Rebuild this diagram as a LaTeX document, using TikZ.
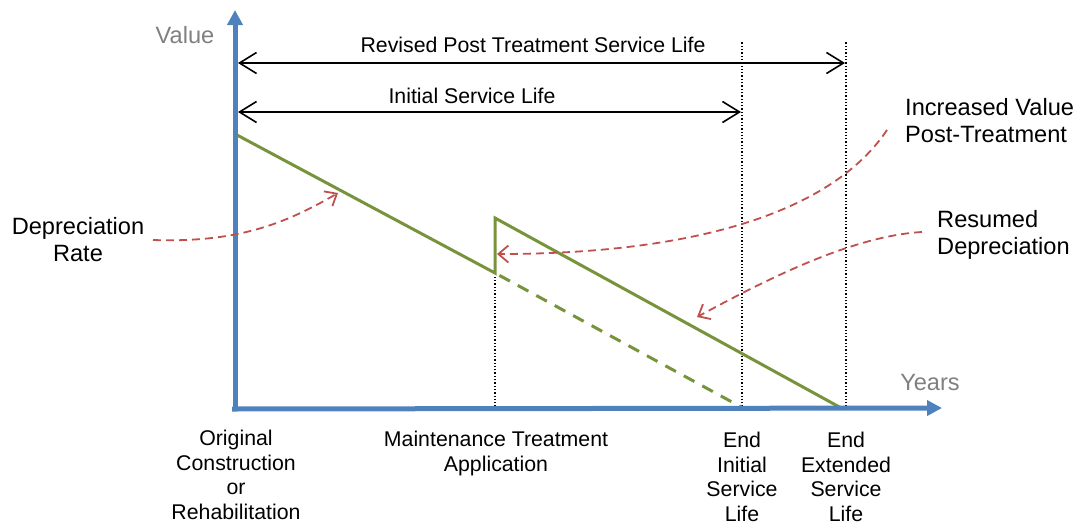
\documentclass[tikz,border=0pt]{standalone}
\usepackage{fontspec}
\setmainfont{Liberation Sans}
\usetikzlibrary{arrows.meta}

\definecolor{axisblue}{RGB}{79,129,189}
\definecolor{valgreen}{RGB}{119,147,60}
\definecolor{noteRed}{RGB}{192,80,77}

\begin{document}
\begin{tikzpicture}[x=1pt, y=-1pt,
  axis/.style={axisblue, line width=5pt, -{Triangle[length=15pt,width=15pt]}},
  span/.style={black, line width=1.6pt, {Straight Barb[length=17pt,width=21pt]}-{Straight Barb[length=17pt,width=21pt]}},
  guide/.style={black, line width=1.3pt, dotted},
  value/.style={valgreen, line width=3pt},
  note/.style={noteRed, line width=1.8pt, dash pattern=on 8pt off 5pt, -{Straight Barb[length=10pt,width=17pt]}},
  big/.style={font=\fontsize{23.6}{27}\selectfont, inner sep=0pt, align=center},
  small/.style={font=\fontsize{21.3}{24.5}\selectfont, inner sep=0pt, align=center}]
\useasboundingbox (0,0) rectangle (1083,525);

% key points, in pixel units of the original (y grows downwards)
\coordinate (O)    at (235,410);
\coordinate (Ytop) at (235,10);
\coordinate (Xo)   at (232,409);
\coordinate (Xend) at (942,408);
\coordinate (Start)   at (237,135);
\coordinate (TreatLo) at (495,273);
\coordinate (TreatHi) at (495,218);
\coordinate (EndExt)  at (843,409);
\coordinate (EndInit) at (743,408);

% dotted year markers
\draw[guide] (495,410) -- (495,276);
\draw[guide] (742,410) -- (742,42);
\draw[guide] (846,410) -- (846,42);

% service life spans
\draw[span] (238,63) -- (845,63);
\draw[span] (238,112) -- (741,112);
\node[small] (revised) at (533,45) {Revised Post Treatment Service Life};
\node[small] (initial) at (472,96) {Initial Service Life};

% value lines
\draw[value] (Start) -- (TreatLo) -- (TreatHi) -- (EndExt);
\draw[value, dash pattern=on 12pt off 9pt, dash phase=-5pt] (TreatLo) -- (EndInit);

% axes
\draw[axis] (O) -- (Ytop);
\draw[axis] (Xo) -- (Xend);
\node[big, gray] (value) at (185,35) {Value};
\node[big, gray] (years) at (930,382) {Years};

% ---- notes ----
\node[big] (deprate) at (78,240) {Depreciation\\Rate};
\node[big, anchor=north west, align=left] (incval) at (905,98) {Increased Value\\Post-Treatment};
\node[big, anchor=north west, align=left] (resumed) at (937,210) {Resumed\\Depreciation};

\coordinate (dr0) at (153,240);
\coordinate (dr1) at (338,193);
\coordinate (iv0) at (887,130);
\coordinate (iv1) at (497,254);
\coordinate (rd0) at (922,232);
\coordinate (rd1) at (697,317);
\draw[note] (dr0) .. controls (240,243) and (288,222) .. (dr1);
\draw[note] (iv0) .. controls (828,218) and (680,254) .. (iv1);
\draw[note] (rd0) .. controls (850,236) and (760,283) .. (rd1);

% ---- year labels ----
\node[small, anchor=north] (orig)  at (236,430) {Original\\Construction\\or\\Rehabilitation};
\node[small, anchor=north] (maint) at (496,431) {Maintenance Treatment\\Application};
\node[small, anchor=north] (endi)  at (742,432) {End\\Initial\\Service\\Life};
\node[small, anchor=north] (ende)  at (846,432) {End\\Extended\\Service\\Life};

\end{tikzpicture}
\end{document}
